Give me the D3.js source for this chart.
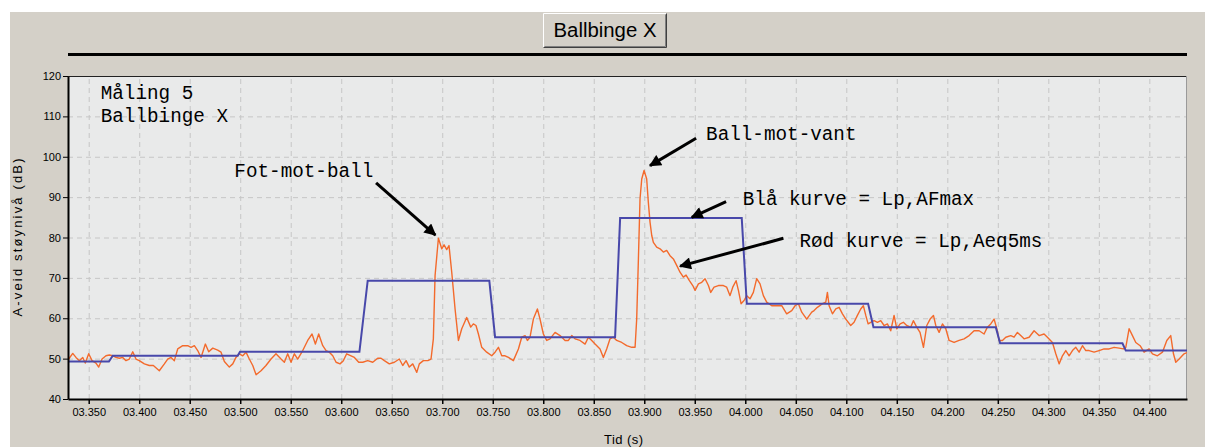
<!DOCTYPE html>
<html>
<head>
<meta charset="utf-8">
<script src="https://cdn.jsdelivr.net/npm/d3@7"></script>
<style>
    body { margin: 0; background: #fff; }
    svg { display: block; }
    .tick text { font-family: "Liberation Sans", Arial, sans-serif; font-size: 11px; fill: #000; }
    .gridline { stroke: #c6c6c6; stroke-dasharray: 5,4; }
    .note { font-family: "Liberation Mono", "Courier New", monospace; font-size: 19.3px; fill: #000; }
</style>
</head>
<body>
<div id="chart"></div>
<script>

// Blue curve = Lp,AFmax : 125 ms steps (ramp start, ramp end, level of each step)
let blueEdges    = [3.3700, 3.4975, 3.6180, 3.7466, 3.8711, 3.9965, 4.1216, 4.2480, 4.3734];
let blueEdgeEnds = [3.3738, 3.4998, 3.6262, 3.7523, 3.8761, 4.0015, 4.1269, 4.2523, 4.3767];
let blueLevels   = [49.3, 50.7, 51.7, 69.3, 55.3, 84.8, 63.6, 57.8, 53.8, 52.0];

// Red curve = Lp,Aeq5ms : time (s) and level (dB)
let redTimes = [
    3.3302, 3.3342, 3.3374, 3.3407, 3.3441, 3.3466, 3.3500, 3.3533, 3.3572, 3.3599,
    3.3632, 3.3671, 3.3704, 3.3738, 3.3770, 3.3803, 3.3837, 3.3869, 3.3902, 3.3936,
    3.3968, 3.4001, 3.4051, 3.4100, 3.4140, 3.4199, 3.4249, 3.4282, 3.4315, 3.4348,
    3.4381, 3.4431, 3.4480, 3.4513, 3.4546, 3.4579, 3.4612, 3.4655, 3.4688, 3.4728,
    3.4777, 3.4810, 3.4843, 3.4892, 3.4926, 3.4958, 3.4991, 3.5025, 3.5057, 3.5090,
    3.5124, 3.5157, 3.5206, 3.5255, 3.5305, 3.5354, 3.5404, 3.5437, 3.5470, 3.5503,
    3.5536, 3.5569, 3.5619, 3.5668, 3.5711, 3.5744, 3.5777, 3.5817, 3.5850, 3.5882,
    3.5916, 3.5949, 3.5988, 3.6021, 3.6054, 3.6097, 3.6130, 3.6173, 3.6213, 3.6262,
    3.6312, 3.6361, 3.6394, 3.6427, 3.6476, 3.6526, 3.6575, 3.6609, 3.6642, 3.6674,
    3.6708, 3.6748, 3.6773, 3.6813, 3.6857, 3.6889, 3.6912, 3.6929, 3.6962, 3.6995,
    3.7018, 3.7044, 3.7067, 3.7094, 3.7127, 3.7160, 3.7193, 3.7242, 3.7282, 3.7308,
    3.7334, 3.7358, 3.7391, 3.7440, 3.7490, 3.7523, 3.7556, 3.7589, 3.7622, 3.7655,
    3.7704, 3.7754, 3.7787, 3.7820, 3.7843, 3.7869, 3.7902, 3.7942, 3.7968, 3.8001,
    3.8034, 3.8067, 3.8117, 3.8166, 3.8216, 3.8249, 3.8282, 3.8315, 3.8364, 3.8414,
    3.8447, 3.8480, 3.8513, 3.8562, 3.8595, 3.8628, 3.8661, 3.8694, 3.8727, 3.8777,
    3.8826, 3.8876, 3.8909, 3.8925, 3.8942, 3.8958, 3.8975, 3.8998, 3.9024, 3.9040,
    3.9057, 3.9074, 3.9090, 3.9123, 3.9156, 3.9189, 3.9222, 3.9255, 3.9288, 3.9321,
    3.9354, 3.9387, 3.9414, 3.9447, 3.9480, 3.9503, 3.9536, 3.9569, 3.9602, 3.9635,
    3.9658, 3.9691, 3.9734, 3.9783, 3.9816, 3.9849, 3.9876, 3.9909, 3.9932, 3.9958,
    3.9988, 4.0014, 4.0047, 4.0080, 4.0113, 4.0146, 4.0179, 4.0212, 4.0262, 4.0311,
    4.0361, 4.0410, 4.0460, 4.0493, 4.0526, 4.0559, 4.0608, 4.0658, 4.0681, 4.0714,
    4.0764, 4.0797, 4.0813, 4.0830, 4.0863, 4.0896, 4.0929, 4.0962, 4.0995, 4.1044,
    4.1077, 4.1110, 4.1143, 4.1169, 4.1193, 4.1216, 4.1242, 4.1275, 4.1308, 4.1341,
    4.1374, 4.1407, 4.1440, 4.1473, 4.1500, 4.1533, 4.1565, 4.1598, 4.1638, 4.1664,
    4.1697, 4.1730, 4.1764, 4.1797, 4.1830, 4.1863, 4.1886, 4.1919, 4.1952, 4.1985,
    4.2018, 4.2067, 4.2117, 4.2166, 4.2216, 4.2265, 4.2315, 4.2364, 4.2397, 4.2430,
    4.2463, 4.2490, 4.2513, 4.2546, 4.2579, 4.2628, 4.2661, 4.2694, 4.2727, 4.2760,
    4.2810, 4.2859, 4.2909, 4.2958, 4.2991, 4.3041, 4.3074, 4.3107, 4.3140, 4.3173,
    4.3206, 4.3239, 4.3272, 4.3305, 4.3338, 4.3371, 4.3404, 4.3453, 4.3503, 4.3552,
    4.3602, 4.3651, 4.3701, 4.3744, 4.3767, 4.3800, 4.3833, 4.3866, 4.3909, 4.3948,
    4.3998, 4.4031, 4.4080, 4.4130, 4.4173, 4.4212, 4.4239, 4.4262, 4.4295, 4.4344,
    4.4373
];
let redLevels = [
    49.9, 51.3, 50.3, 49.5, 50.3, 48.9, 51.2, 49.5, 48.9, 47.9,
    49.9, 50.7, 50.9, 50.7, 50.3, 50.1, 50.3, 49.5, 49.9, 51.7,
    49.9, 49.5, 48.7, 48.3, 48.3, 47.0, 48.7, 49.9, 50.3, 49.5,
    52.4, 53.2, 53.2, 52.8, 53.2, 52.0, 50.3, 53.6, 51.7, 52.6,
    52.1, 51.6, 49.3, 47.9, 48.7, 50.3, 51.2, 50.7, 51.6, 49.9,
    48.3, 46.0, 47.0, 48.3, 49.9, 51.2, 49.9, 49.1, 51.2, 49.1,
    51.2, 49.9, 52.0, 54.5, 56.1, 53.6, 56.1, 53.2, 52.0, 51.6,
    50.7, 49.1, 48.7, 49.5, 51.2, 50.7, 50.3, 49.1, 49.1, 49.5,
    49.1, 50.1, 50.1, 49.5, 48.7, 49.1, 49.9, 48.3, 49.5, 47.9,
    48.7, 46.6, 48.7, 49.5, 49.5, 49.9, 54.9, 70.6, 79.8, 77.2,
    78.2, 77.0, 78.0, 71.4, 62.3, 54.5, 57.4, 60.2, 57.8, 58.6,
    58.2, 56.1, 52.8, 51.6, 50.7, 51.6, 52.8, 50.7, 50.7, 50.3,
    49.5, 52.4, 55.3, 55.7, 54.5, 55.3, 59.8, 62.3, 59.8, 56.1,
    54.5, 54.9, 56.5, 55.7, 54.5, 54.5, 55.7, 54.9, 54.5, 53.6,
    55.3, 54.5, 53.6, 52.4, 50.3, 52.4, 54.9, 55.3, 54.5, 54.0,
    53.2, 52.8, 52.8, 59.8, 74.7, 89.6, 94.5, 96.6, 94.5, 88.8,
    83.8, 80.5, 78.8, 77.6, 77.2, 76.4, 76.8, 75.5, 74.7, 73.1,
    71.4, 70.2, 70.7, 69.3, 68.1, 66.9, 68.5, 68.9, 69.8, 68.1,
    66.4, 67.7, 68.1, 68.1, 67.7, 65.6, 67.7, 69.3, 66.9, 63.6,
    64.4, 65.6, 64.8, 66.4, 69.8, 68.5, 65.6, 64.0, 63.1, 63.1,
    63.1, 61.1, 61.9, 63.1, 63.6, 61.5, 59.8, 61.5, 61.9, 62.7,
    63.6, 64.0, 66.4, 63.1, 61.1, 62.3, 62.7, 61.1, 59.8, 58.2,
    59.0, 60.7, 62.3, 63.1, 60.7, 58.6, 59.0, 59.4, 59.0, 59.4,
    58.2, 58.6, 56.9, 60.7, 57.4, 58.6, 59.0, 58.2, 57.8, 59.4,
    57.8, 56.5, 52.8, 58.2, 59.8, 60.7, 58.2, 56.5, 58.6, 57.4,
    54.5, 54.0, 54.5, 54.9, 55.7, 56.9, 56.9, 56.1, 57.8, 58.6,
    59.8, 57.4, 54.5, 54.5, 55.3, 55.7, 55.3, 56.5, 55.7, 54.9,
    55.3, 56.9, 55.7, 56.1, 55.3, 54.0, 51.2, 48.7, 50.7, 52.0,
    50.7, 52.0, 52.8, 51.6, 53.2, 52.0, 52.0, 51.6, 52.0, 52.4,
    52.4, 52.8, 52.6, 52.4, 52.8, 57.4, 55.7, 54.0, 53.2, 51.6,
    52.4, 51.2, 50.7, 51.6, 54.5, 55.7, 51.2, 49.1, 49.9, 51.2,
    51.5
];

let xTicks = [3.35, 3.40, 3.45, 3.50, 3.55, 3.60, 3.65, 3.70, 3.75, 3.80, 3.85,
              3.90, 3.95, 4.00, 4.05, 4.10, 4.15, 4.20, 4.25, 4.30, 4.35, 4.40];
let yTicks = [40, 50, 60, 70, 80, 90, 100, 110, 120];

// annotations: text at [t, dB] (left/baseline), arrows from -> to in data units
let noteTexts = ["Måling 5", "Ballbinge X", "Fot-mot-ball", "Ball-mot-vant",
                 "Blå kurve = Lp,AFmax", "Rød kurve = Lp,Aeq5ms"];
let notePos = [[3.3619, 114.2], [3.3619, 108.5], [3.4942, 95.1], [3.9612, 104.1],
               [3.9975, 88.0], [4.0536, 77.6]];
let arrows = [
    [[3.6345, 93.5], [3.6932, 80.6]],
    [[3.9513, 104.6], [3.9057, 97.8]],
    [[3.9810, 88.9], [3.9470, 85.0]],
    [[4.0377, 79.8], [3.9355, 72.9]]
];

let W = 1205, H = 448;
let margin = {top: 76, right: 18, bottom: 49, left: 68};
let width = W - margin.left - margin.right;
let height = H - margin.top - margin.bottom;

let root = d3.select("#chart").append("svg")
    .attr("width", W)
    .attr("height", H);

// window-ish frame
root.append("rect")
    .attr("x", 10).attr("y", 12)
    .attr("width", W - 10).attr("height", H - 13)
    .attr("fill", "#d4d0c8");

// title button
let btn = root.append("g").attr("transform", "translate(543,13)");
btn.append("rect").attr("width", 124).attr("height", 35).attr("fill", "#d4d0c8");
btn.append("path").attr("d", "M0.5,34.5V0.5H123.5").attr("fill", "none").attr("stroke", "#fff");
btn.append("path").attr("d", "M0.5,34.5H123.5V0.5").attr("fill", "none").attr("stroke", "#404040");
btn.append("path").attr("d", "M1.5,33.5H122.5V1.5").attr("fill", "none").attr("stroke", "#808080");
btn.append("text")
    .attr("x", 62).attr("y", 24)
    .attr("text-anchor", "middle")
    .attr("font-family", "Liberation Sans, Arial, sans-serif")
    .attr("font-size", 20)
    .attr("textLength", 103)
    .attr("lengthAdjust", "spacingAndGlyphs")
    .text("Ballbinge X");

root.append("rect")
    .attr("x", margin.left).attr("y", 53)
    .attr("width", width).attr("height", 3)
    .attr("fill", "#000");

let svg = root.append("g")
    .attr("transform", "translate(" + margin.left + "," + margin.top + ")");

let xScale = d3.scaleLinear()
    .domain([3.3295, 4.4373])
    .range([0, width]);

let yScale = d3.scaleLinear()
    .domain([40, 120])
    .range([height, 0]);

svg.append("rect")
    .attr("width", width).attr("height", height)
    .attr("fill", "#e9eaea");

// grid
svg.append("g")
    .attr("transform", "translate(0," + height + ")")
    .call(d3.axisBottom(xScale).tickValues(xTicks).tickSize(-height).tickFormat(""))
    .call(function(g) {
        g.select(".domain").remove();
        g.selectAll("line").attr("class", "gridline");
    });

svg.append("g")
    .call(d3.axisLeft(yScale).tickValues(yTicks).tickSize(-width).tickFormat(""))
    .call(function(g) {
        g.select(".domain").remove();
        g.selectAll("line").attr("class", "gridline");
    });

// plot frame top / right
svg.append("line").attr("x1", 0).attr("x2", width).attr("y1", 0.5).attr("y2", 0.5)
    .attr("stroke", "#222");
svg.append("line").attr("x1", width - 0.5).attr("x2", width - 0.5).attr("y1", 0).attr("y2", height)
    .attr("stroke", "#9a9a9a");

svg.append("clipPath").attr("id", "clip")
    .append("rect").attr("width", width).attr("height", height);

let plot = svg.append("g").attr("clip-path", "url(#clip)");

let red = redTimes.map(function(t, i) { return [t, redLevels[i]]; });

let blue = [[xScale.domain()[0], blueLevels[0]]];
for (let i = 0; i < blueEdges.length; i++) {
    blue.push([blueEdges[i], blueLevels[i]]);
    blue.push([blueEdgeEnds[i], blueLevels[i + 1]]);
}
blue.push([xScale.domain()[1], blueLevels[blueLevels.length - 1]]);

let line = d3.line()
    .x(function(d) { return xScale(d[0]); })
    .y(function(d) { return yScale(d[1]); });

plot.append("path")
    .datum(red)
    .attr("fill", "none")
    .attr("stroke", "#f36a2c")
    .attr("stroke-width", 1.4)
    .attr("stroke-linejoin", "round")
    .attr("d", line);

plot.append("path")
    .datum(blue)
    .attr("fill", "none")
    .attr("stroke", "#4848aa")
    .attr("stroke-width", 2)
    .attr("d", line);

// axes
let xAxis = d3.axisBottom(xScale)
    .tickValues(xTicks)
    .tickSize(5)
    .tickSizeOuter(0)
    .tickPadding(4)
    .tickFormat(d3.format("06.3f"));

let yAxis = d3.axisLeft(yScale)
    .tickValues(yTicks)
    .tickSize(5)
    .tickSizeOuter(0)
    .tickPadding(2);

svg.append("g")
    .attr("transform", "translate(0," + height + ")")
    .call(xAxis)
    .call(function(g) {
        g.select(".domain").attr("stroke-width", 2);
        g.selectAll("line").attr("stroke-width", 1.5);
    });

svg.append("g")
    .call(yAxis)
    .call(function(g) {
        g.select(".domain").attr("stroke-width", 2);
        g.selectAll("text").attr("font-size", 10.5);
    });

svg.append("text")
    .attr("transform", "translate(-46," + (height / 2) + ") rotate(-90)")
    .attr("text-anchor", "middle")
    .attr("font-family", "Liberation Sans, Arial, sans-serif")
    .attr("font-size", 13)
    .attr("textLength", 158)
    .attr("lengthAdjust", "spacing")
    .text("A-veid støynivå (dB)");

svg.append("text")
    .attr("x", width / 2 - 4)
    .attr("y", height + 45)
    .attr("text-anchor", "middle")
    .attr("font-family", "Liberation Sans, Arial, sans-serif")
    .attr("font-size", 13)
    .attr("textLength", 39)
    .attr("lengthAdjust", "spacing")
    .text("Tid (s)");

// annotations
svg.append("defs").append("marker")
    .attr("id", "head")
    .attr("viewBox", "0 0 10 10")
    .attr("refX", 9).attr("refY", 5)
    .attr("markerWidth", 4.5).attr("markerHeight", 4)
    .attr("markerUnits", "strokeWidth")
    .attr("orient", "auto")
    .append("path").attr("d", "M0,0L10,5L0,10z").attr("fill", "#000");

svg.selectAll(".arrow")
    .data(arrows)
    .enter().append("line")
    .attr("class", "arrow")
    .attr("x1", function(d) { return xScale(d[0][0]); })
    .attr("y1", function(d) { return yScale(d[0][1]); })
    .attr("x2", function(d) { return xScale(d[1][0]); })
    .attr("y2", function(d) { return yScale(d[1][1]); })
    .attr("stroke", "#000")
    .attr("stroke-width", 3)
    .attr("marker-end", "url(#head)");

svg.selectAll(".note")
    .data(noteTexts)
    .enter().append("text")
    .attr("class", "note")
    .attr("x", function(d, i) { return xScale(notePos[i][0]); })
    .attr("y", function(d, i) { return yScale(notePos[i][1]); })
    .attr("xml:space", "preserve")
    .text(function(d) { return d; });

</script>
</body>
</html>
